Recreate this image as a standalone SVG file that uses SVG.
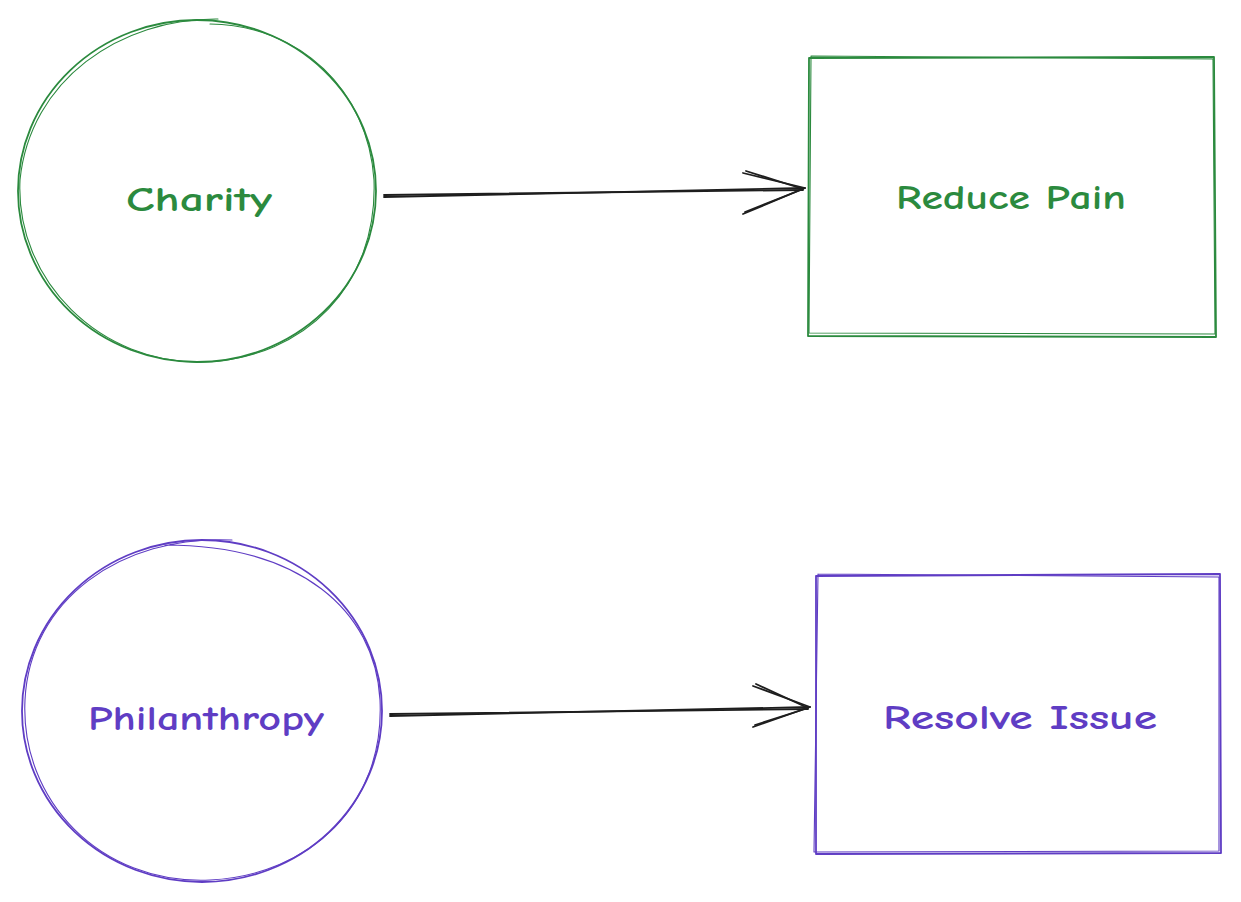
<svg xmlns="http://www.w3.org/2000/svg" width="1241" height="902" viewBox="0 0 1241 902">
<style>
.g{stroke:#2b8a3e;fill:none;stroke-linecap:round;stroke-linejoin:round}
.v{stroke:#5f3dc4;fill:none;stroke-linecap:round;stroke-linejoin:round}
.a{stroke:#1e1e1e;fill:none;stroke-width:1.8;stroke-linecap:round;stroke-linejoin:round}
.t{font-family:"Comic Neue","Lato","Liberation Sans",sans-serif;font-size:34px;font-weight:bold;text-anchor:middle}
.w1{stroke-width:1.8}
.w2{stroke-width:1.1}
</style>
<rect width="1241" height="902" fill="#ffffff"/>
<g id="charity">
<ellipse class="g w1" cx="197" cy="191" rx="179" ry="171"/>
<path class="g w2" d="M 218 19 C 120 18 30 80 20 180 C 15 280 100 365 205 362 C 305 358 378 285 374 180 C 368 90 300 25 210 24"/>
<text class="t" x="199" y="211" fill="#2b8a3e" textLength="146" lengthAdjust="spacingAndGlyphs">Charity</text>
</g>
<g id="reduce-pain">
<path class="g w1" d="M 809 58 L 1214 57 L 1216 337 L 808 336 Z"/>
<path class="g w2" d="M 811 56 L 1213 59 L 1215 334 L 809 333 L 811 56"/>
<text class="t" x="1011" y="209" fill="#2b8a3e" textLength="230" lengthAdjust="spacingAndGlyphs">Reduce Pain</text>
</g>
<g id="philanthropy">
<ellipse class="v w1" cx="202" cy="711" rx="180" ry="171"/>
<path class="v w2" d="M 232 540 C 120 535 30 600 25 700 C 20 800 100 885 210 880 C 310 875 385 805 380 700 C 375 610 300 545 165 545"/>
<text class="t" x="206" y="730" fill="#5f3dc4" textLength="236" lengthAdjust="spacingAndGlyphs">Philanthropy</text>
</g>
<g id="resolve-issue">
<path class="v w1" d="M 816 576 L 1220 574 L 1221 853 L 816 854 Z"/>
<path class="v w2" d="M 818 574 L 1219 577 L 1219 851 L 814 852 L 818 574"/>
<text class="t" x="1020" y="729" fill="#5f3dc4" textLength="274" lengthAdjust="spacingAndGlyphs">Resolve Issue</text>
</g>
<g id="connectors">
<path class="a" d="M 384 197 L 805 188"/>
<path class="a" d="M 384 195 L 803 190" stroke-width="1.1"/>
<path class="a" d="M 743 173 L 805 188 L 743 214"/>
<path class="a" d="M 746 171 L 803 189 L 745 212" stroke-width="1.1"/>
<path class="a" d="M 390 716 L 810 707"/>
<path class="a" d="M 390 714 L 808 709" stroke-width="1.1"/>
<path class="a" d="M 753 686 L 810 707 L 753 727"/>
<path class="a" d="M 756 684 L 808 708 L 755 725" stroke-width="1.1"/>
</g>
</svg>
